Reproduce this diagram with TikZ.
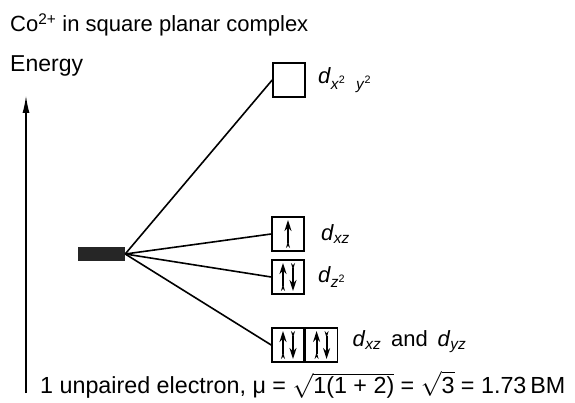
\documentclass[tikz,border=0pt]{standalone}
\usepackage{fontspec}
\setmainfont{Liberation Sans}
\usetikzlibrary{arrows.meta,positioning}

\newcommand{\dorb}[1]{\textit{d}\textsubscript{\textit{#1}}}

\begin{document}
\begin{tikzpicture}[
  x=1pt, y=-1pt,
  orbbox/.style={rectangle, draw, line width=1.6pt, minimum width=32pt, minimum height=34pt, inner sep=0pt},
  spin/.style={line width=2.2pt, {Stealth[length=7pt,width=4pt,reversed]}-{Stealth[length=11pt,width=7pt]}},
  lbl/.style={font=\fontsize{22}{24}\selectfont, inner sep=0pt},
  txt/.style={font=\fontsize{22}{24}\selectfont, inner sep=0pt, anchor=base west}
]
\useasboundingbox (0,0) rectangle (575,403);

\node[txt] (title) at (10,32) {Co\textsuperscript{2+} in square planar complex};
\node[txt, font=\fontsize{23}{26}\selectfont] (energy) at (10,72) {Energy};
\coordinate (ebot) at (26,393);
\coordinate (etop) at (26,95);
\draw[line width=1.8pt, -{Latex[length=18pt,width=7pt]}] (ebot) -- (etop);

% free ion level
\node[rectangle, fill=black!85, minimum width=47pt, minimum height=13pt, inner sep=0pt] (free) at (101.5,254) {};

% split orbitals
\node[orbbox] (dx2y2) at (289,80) {};
\node[orbbox] (dxy) at (288,234) {};
\node[orbbox] (dz2) at (288,277) {};
\node[orbbox] (dxz) at (288,345) {};
\node[orbbox, right=0pt of dxz] (dyz) {};

\node[lbl, right=12pt of dx2y2] (l1) {\textit{d}\textsubscript{\textit{x}\textsuperscript{2}\hspace{0.7em}\textit{y}\textsuperscript{2}}};
\node[lbl, right=16pt of dxy] (l2) {\dorb{xz}};
\node[lbl, right=13pt of dz2] (l3) {\textit{d}\textsubscript{\textit{z}\textsuperscript{2}}};
\node[lbl, right=14pt of dyz, yshift=3pt] (l4) {\dorb{xz}\, and\, \dorb{yz}};

\draw[line width=1.6pt] (free.east) -- (dx2y2.west);
\draw[line width=1.6pt] (free.east) -- (dxy.west);
\draw[line width=1.6pt] (free.east) -- (dz2.west);
\draw[line width=1.6pt] (free.east) -- (dxz.west);

% electrons
\draw[spin] ([yshift=-14pt]dxy.center) -- ([yshift=14pt]dxy.center);
\foreach \b in {dz2,dxz,dyz}{
  \draw[spin] ([xshift=-5pt,yshift=-14pt]\b.center) -- ([xshift=-5pt,yshift=14pt]\b.center);
  \draw[spin] ([xshift=5pt,yshift=14pt]\b.center) -- ([xshift=5pt,yshift=-14pt]\b.center);
}

\node[txt, font=\fontsize{23.3}{26}\selectfont] (moment) at (40,393) {1 unpaired electron, μ = \smash{$\sqrt{\hbox{1(1 + 2)}}$} = \smash{$\sqrt{\hbox{3}}$} = 1.73\,BM};
\end{tikzpicture}
\end{document}
